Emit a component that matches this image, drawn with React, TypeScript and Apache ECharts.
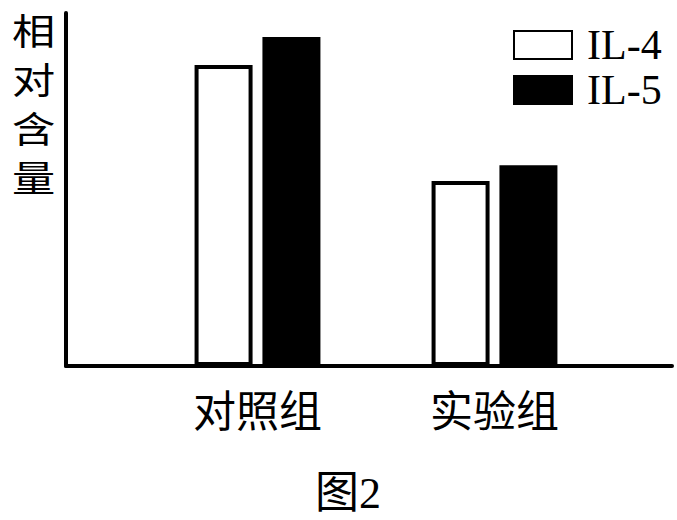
import React, { useEffect, useRef } from "react";
import * as echarts from "echarts";

const categories = ["对照组", "实验组"];
const il4Values = [85.3, 52.4];
const il5Values = [93.2, 56.9];
const seriesNames = ["IL-4", "IL-5"];
const yAxisLabel = "相对含量";
const figureTitle = "图2";

const FONT = "'Liberation Serif', 'Noto Sans CJK SC', serif";

export default function App() {
  const ref = useRef<HTMLDivElement>(null);
  useEffect(() => {
    if (!ref.current) return;
    const chart = echarts.init(ref.current, null, { renderer: "svg" });
    chart.setOption({
      animation: false,
      backgroundColor: "#ffffff",
      title: {
        text: figureTitle,
        left: 310,
        top: 466,
        textStyle: { fontFamily: FONT, fontSize: 44, fontWeight: "normal", color: "#000" },
      },
      legend: {
        orient: "vertical",
        left: 508,
        top: 19,
        itemWidth: 58,
        itemHeight: 28,
        itemGap: 3,
        icon: "rect",
        selectedMode: false,
        data: seriesNames,
        textStyle: {
          fontFamily: FONT,
          fontSize: 42,
          lineHeight: 40,
          color: "#000",
          padding: [0, 0, 0, 10],
        },
      },
      graphic: yAxisLabel.split("").map((ch, i) => ({
        type: "text",
        x: 12,
        y: 11 + i * 49,
        scaleX: 1.2,
        style: {
          text: ch,
          font: "36px 'Noto Sans CJK SC'",
          fill: "#000",
        },
      })),
      grid: [
        { left: 66, right: 5, top: 13, bottom: 154 },
        { left: 139, right: 64, top: 13, bottom: 154 },
      ],
      xAxis: [
        {
          type: "value",
          gridIndex: 0,
          min: 0,
          max: 1,
          axisLine: { show: true, onZero: false, lineStyle: { color: "#000", width: 4 } },
          axisTick: { show: false },
          axisLabel: { show: false },
          splitLine: { show: false },
        },
        {
          type: "category",
          gridIndex: 1,
          data: categories,
          axisLine: { show: false },
          axisTick: { show: false },
          axisLabel: {
            margin: 20,
            fontFamily: "'Noto Sans CJK SC'",
            fontSize: 43,
            color: "#000",
          },
        },
      ],
      yAxis: [
        {
          type: "value",
          gridIndex: 0,
          min: 0,
          max: 100,
          axisLine: { show: true, onZero: false, lineStyle: { color: "#000", width: 4 } },
          axisTick: { show: false },
          axisLabel: { show: false },
          splitLine: { show: false },
        },
        {
          type: "value",
          gridIndex: 1,
          min: 0,
          max: 100,
          show: false,
          splitLine: { show: false },
        },
      ],
      series: [
        {
          name: seriesNames[0],
          type: "bar",
          xAxisIndex: 1,
          yAxisIndex: 1,
          data: il4Values,
          barWidth: 58,
          barGap: "17%",
          itemStyle: { color: "#ffffff", borderColor: "#000", borderWidth: 4 },
        },
        {
          name: seriesNames[1],
          type: "bar",
          xAxisIndex: 1,
          yAxisIndex: 1,
          data: il5Values,
          barWidth: 58,
          itemStyle: { color: "#000000", borderColor: "#000", borderWidth: 4 },
        },
      ],
    });
    return () => chart.dispose();
  }, []);
  return (
    <div
      ref={ref}
      style={{ position: "fixed", left: 0, top: 0, width: 677, height: 520 }}
    />
  );
}
